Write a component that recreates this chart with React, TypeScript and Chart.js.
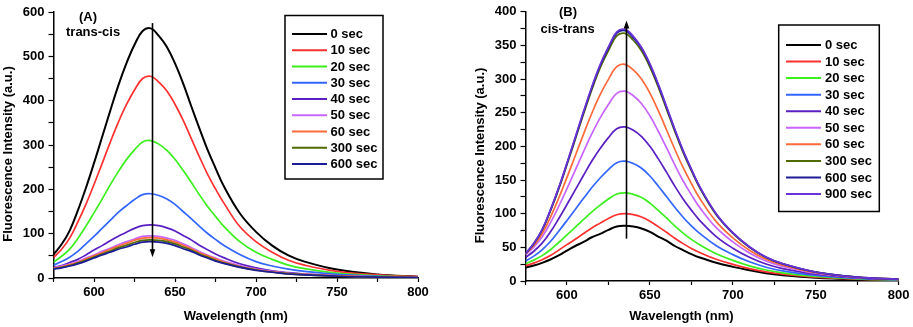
import React, { useEffect, useRef } from "react";
import { Chart, registerables } from "chart.js";

Chart.register(...registerables);

// ---------------- data ----------------
const wavelengths = [575, 580, 585, 590, 595, 600, 605, 610, 615, 620, 625, 630, 635, 640, 645, 650, 655, 660, 665, 670, 675, 680, 690, 700, 710, 720, 730, 750, 775, 800];

// Panel A (trans-cis)
const labelsA = ["0 sec", "10 sec", "20 sec", "30 sec", "40 sec", "50 sec", "60 sec", "300 sec", "600 sec"];
const colorsA = ["#000000", "#ff3030", "#3cef1e", "#3366ff", "#5a1fc4", "#c866ff", "#ff6a3a", "#4f6a00", "#1c1c96"];
const a0 = [53, 76, 107, 152, 203, 259, 318, 377, 434, 484, 526, 557, 563, 546, 521, 484, 439, 388, 338, 290, 248, 208, 146, 104, 73, 51, 37, 19, 8, 3];
const a10 = [46, 65, 90, 126, 166, 211, 258, 306, 351, 391, 424, 450, 455, 442, 422, 392, 356, 315, 274, 235, 201, 170, 116, 82, 58, 40, 29, 15, 7, 3];
const a20 = [36, 49, 65, 89, 117, 147, 178, 210, 240, 267, 289, 307, 310, 302, 288, 268, 243, 216, 188, 162, 139, 117, 82, 58, 42, 29, 21, 11, 5, 2];
const a30 = [29, 37, 47, 60, 77, 94, 112, 130, 148, 163, 177, 188, 190, 186, 178, 166, 150, 134, 117, 101, 87, 74, 53, 37, 27, 20, 15, 8, 4, 2];
const a40 = [24, 28, 35, 42, 52, 63, 73, 84, 94, 103, 112, 118, 120, 118, 113, 106, 96, 86, 74, 64, 54, 46, 32, 23, 16, 12, 9, 5, 2.4, 1.2];
const a50 = [23, 27, 31, 37, 45, 52, 60, 67, 75, 82, 88, 94, 95, 94, 90, 85, 77, 69, 60, 52, 45, 38, 28, 20, 15, 11, 8, 5, 2.4, 1.2];
const a60 = [22, 25, 30, 35, 43, 50, 57, 65, 72, 78, 85, 90, 91, 90, 86, 81, 74, 66, 57, 50, 43, 36, 26, 19, 14, 10, 8, 5, 2.3, 1.2];
const a300 = [21, 24, 28, 34, 40, 47, 54, 61, 68, 74, 80, 85, 86, 85, 82, 77, 70, 63, 54, 47, 40, 34, 25, 18, 13, 10, 7, 4, 2.2, 1.1];
const a600 = [20, 23, 27, 32, 38, 45, 52, 58, 65, 70, 76, 81, 82, 81, 78, 73, 66, 60, 52, 45, 38, 33, 24, 17, 13, 9, 7, 4, 2, 1];
const seriesA = [a0, a10, a20, a30, a40, a50, a60, a300, a600];

// Panel B (cis-trans)
const labelsB = ["0 sec", "10 sec", "20 sec", "30 sec", "40 sec", "50 sec", "60 sec", "300 sec", "600 sec", "900 sec"];
const colorsB = ["#000000", "#ff3030", "#3cef1e", "#3366ff", "#5a1fc4", "#c866ff", "#ff6a3a", "#4f6a00", "#1c1c96", "#6a32d8"];
const b0 = [20, 23, 27, 32, 38, 45, 52, 58, 65, 70, 76, 81, 82, 81, 78, 73, 66, 60, 52, 46, 40, 35, 27, 21, 16, 11.5, 8.6, 4.9, 2.5, 1.2];
const b10 = [22.5, 26.5, 31.6, 37.8, 45.9, 54, 62, 70.6, 78.8, 86, 93, 98.5, 100, 98.6, 95, 88.9, 80.8, 72.5, 63.5, 55.5, 48.4, 42.4, 32.3, 24.8, 18.4, 13.5, 10.1, 5.7, 2.8, 1.4];
const b20 = [25.7, 31, 37.7, 46.4, 57.2, 68.5, 80, 91.4, 102.7, 112.7, 121.8, 129.2, 131, 128.8, 124.2, 115.8, 105, 93.7, 81.9, 71.2, 61.8, 53.8, 40.5, 30.7, 22.5, 16.4, 12.2, 6.8, 3.3, 1.6];
const b30 = [29.8, 36.9, 46.3, 58.7, 73.9, 89.9, 106.4, 122.8, 138.8, 153.1, 165.5, 175.8, 178, 174.6, 167.6, 156, 141.2, 125.5, 109.5, 94.8, 81.9, 70.8, 52.5, 39.2, 28.5, 20.5, 15.1, 8.3, 3.9, 1.9];
const b40 = [35, 44.2, 56.3, 72.8, 92.5, 113.6, 135.3, 157.1, 178.2, 196.9, 213, 226.3, 229, 224, 214.6, 200.1, 181.8, 161.7, 141, 122, 105.3, 90.2, 66, 48.8, 35.3, 25.2, 18.5, 10.1, 4.7, 2.2];
const b50 = [39, 50.3, 65.4, 86.3, 110.8, 137.3, 164.8, 192.3, 218.8, 242.5, 262.3, 278.8, 282, 275.2, 263.4, 245.5, 222.9, 198, 172.6, 149, 128.3, 109.4, 79.2, 58.1, 41.7, 29.6, 21.7, 11.6, 5.3, 2.5];
const b60 = [39.9, 52.8, 70.2, 94.7, 123, 153.9, 186.1, 218.3, 249.2, 276.9, 299.5, 318.5, 322, 313.6, 299.8, 279.2, 253.4, 224.8, 195.8, 168.7, 144.9, 123, 88.2, 64.1, 45.7, 32.2, 23.5, 12.4, 5.5, 2.5];
const b300 = [40.3, 55, 75.1, 103.8, 136.5, 172.6, 210.3, 248, 284.1, 316.5, 342.2, 364.1, 368, 357.7, 341.5, 317.8, 288.3, 255.4, 222.3, 191.2, 163.8, 138.4, 98.3, 70.7, 50, 35, 25.4, 13.1, 5.7, 2.5];
const b600 = [40.7, 55.6, 75.9, 104.9, 138, 174.5, 212.6, 250.7, 287.2, 319.9, 346, 368.1, 372, 361.6, 345.2, 321.2, 291.5, 258.2, 224.7, 193.3, 165.5, 139.9, 99.3, 71.4, 50.6, 35.3, 25.7, 13.3, 5.8, 2.6];
const b900 = [41, 55.9, 76.3, 105.5, 138.8, 175.4, 213.7, 252.1, 288.7, 321.6, 347.8, 370.1, 374, 363.5, 347, 323, 293, 259.6, 225.9, 194.3, 166.4, 140.6, 99.9, 71.8, 50.9, 35.5, 25.8, 13.4, 5.8, 2.6];
const seriesB = [b0, b10, b20, b30, b40, b50, b60, b300, b600, b900];

// arrows: [wavelength, from value, to value]
const arrowA = [635.5, 575, 47];
const arrowB = [635.5, 63, 387];

// ---------------- styling ----------------
const FAMILY = '"Liberation Sans", Arial, Helvetica, sans-serif';
const FONT = { family: FAMILY, size: 13, weight: "bold" as const };

const overlayPlugin = {
  id: "overlay",
  afterDatasetsDraw(chart: any, _args: any, opts: any) {
    const ctx = chart.ctx as CanvasRenderingContext2D;
    const xs = chart.scales.x;
    const ys = chart.scales.y;
    ctx.save();
    const ar = opts.arrow;
    if (ar) {
      const px = Math.round(xs.getPixelForValue(ar[0])) + 0.5;
      const y0 = ys.getPixelForValue(ar[1]);
      const y1 = ys.getPixelForValue(ar[2]);
      const dir = y1 > y0 ? 1 : -1;
      ctx.strokeStyle = "#000";
      ctx.lineWidth = 1.6;
      ctx.beginPath();
      ctx.moveTo(px, y0);
      ctx.lineTo(px, y1 - dir * 5);
      ctx.stroke();
      ctx.fillStyle = "#000";
      ctx.beginPath();
      ctx.moveTo(px, y1);
      ctx.lineTo(px - 2.8, y1 - dir * 8);
      ctx.lineTo(px + 2.8, y1 - dir * 8);
      ctx.closePath();
      ctx.fill();
    }
    ctx.font = `bold 13px ${FAMILY}`;
    ctx.textBaseline = "middle";
    ctx.textAlign = "left";
    ctx.fillStyle = "#000";
    for (const t of opts.texts || []) ctx.fillText(t.text, t.x, t.y);
    const lg = opts.legend;
    if (lg) {
      ctx.fillStyle = "#fff";
      ctx.fillRect(lg.x, lg.y, lg.w, lg.h);
      ctx.strokeStyle = "#000";
      ctx.lineWidth = 1.5;
      ctx.strokeRect(lg.x, lg.y, lg.w, lg.h);
      chart.data.datasets.forEach((ds: any, i: number) => {
        const y = lg.row0 + i * lg.rowH;
        ctx.strokeStyle = ds.borderColor;
        ctx.lineWidth = 2;
        ctx.beginPath();
        ctx.moveTo(lg.line0, y);
        ctx.lineTo(lg.line1, y);
        ctx.stroke();
        ctx.fillStyle = "#000";
        ctx.fillText(ds.label, lg.textX, y + 0.5);
      });
    }
    ctx.restore();
  },
};

function buildConfig(
  labels: string[],
  colors: string[],
  series: number[][],
  yMax: number,
  yStep: number,
  yLabelStep: number,
  layout: any,
  overlay: any
): any {
  const datasets = series.map((vals, i) => ({
    label: labels[i],
    data: vals.map((v, j) => ({ x: wavelengths[j], y: v })),
    borderColor: colors[i],
    backgroundColor: colors[i],
    borderWidth: i === 0 ? 2 : 1.7,
    pointRadius: 0,
    fill: false,
    tension: 0.4,
    order: series.length - i,
  }));
  return {
    type: "line",
    data: { datasets },
    options: {
      responsive: false,
      maintainAspectRatio: false,
      animation: false,
      devicePixelRatio: 1,
      events: [],
      layout: { padding: layout.padding },
      plugins: {
        legend: { display: false },
        tooltip: { enabled: false },
        overlay,
      },
      scales: {
        x: {
          type: "linear",
          min: 575,
          max: 800,
          ticks: {
            stepSize: 25,
            autoSkip: false,
            maxRotation: 0,
            font: FONT,
            color: "#000",
            padding: 3,
            callback: (v: number) => (v % 50 === 0 ? String(v) : ""),
          },
          grid: { drawOnChartArea: false, drawTicks: true, tickLength: 4, color: "#000", tickWidth: 1.2 },
          border: { display: true, color: "#000", width: 1.5 },
          title: {
            display: true,
            text: layout.xTitle,
            font: FONT,
            color: "#000",
            padding: { top: 0, bottom: 3 },
          },
          afterFit: (s: any) => {
            s.height = layout.xHeight;
          },
        },
        y: {
          type: "linear",
          min: 0,
          max: yMax,
          ticks: {
            stepSize: yStep,
            autoSkip: false,
            font: FONT,
            color: "#000",
            padding: 4,
            callback: (v: number) => (v % yLabelStep === 0 ? String(v) : ""),
          },
          grid: { drawOnChartArea: false, drawTicks: true, tickLength: 5, color: "#000", tickWidth: 1.2 },
          border: { display: true, color: "#000", width: 1.5 },
          title: {
            display: true,
            text: "Fluorescence Intensity (a.u.)     ",
            font: FONT,
            color: "#000",
            padding: { top: layout.yTitlePad, bottom: 0 },
          },
          afterFit: (s: any) => {
            s.width = layout.yWidth;
          },
        },
      },
    },
    plugins: [overlayPlugin],
  };
}

function Panel(props: { left: number; width: number; config: () => any }) {
  const ref = useRef<HTMLCanvasElement | null>(null);
  useEffect(() => {
    if (!ref.current) return;
    const chart = new Chart(ref.current, props.config());
    return () => chart.destroy();
  }, []);
  return (
    <canvas
      ref={ref}
      width={props.width}
      height={327}
      style={{ position: "absolute", left: props.left, top: 0, width: props.width, height: 327, display: "block" }}
    />
  );
}

export default function App() {
  const configA = () =>
    buildConfig(
      labelsA,
      colorsA,
      seriesA,
      600,
      50,
      100,
      {
        padding: { left: 0, right: 35, top: 12, bottom: 0 },
        xHeight: 49,
        yWidth: 53.5,
        yTitlePad: 1,
        xTitle: "Wavelength (nm)",
      },
      {
        arrow: arrowA,
        texts: [
          { text: "(A)", x: 79, y: 17 },
          { text: "trans-cis", x: 66, y: 32 },
        ],
        legend: { x: 285, y: 15.5, w: 98, h: 163.5, row0: 34, rowH: 16.25, line0: 292, line1: 327, textX: 330.5 },
      }
    );
  const configB = () =>
    buildConfig(
      labelsB,
      colorsB,
      seriesB,
      400,
      25,
      50,
      {
        padding: { left: 0, right: 14.3, top: 8.3, bottom: 0 },
        xHeight: 46,
        yWidth: 72.5,
        yTitlePad: 20,
        xTitle: "Wavelength (nm)                 ",
      },
      {
        arrow: arrowB,
        texts: [
          { text: "(B)", x: 106, y: 12.5 },
          { text: "cis-trans", x: 87.5, y: 29 },
        ],
        legend: { x: 325.7, y: 25, w: 100.6, h: 186.5, row0: 45, rowH: 16.56, line0: 333, line1: 368, textX: 372 },
      }
    );
  return (
    <div style={{ position: "absolute", left: 0, top: 0, width: 913, height: 327, background: "#fff", overflow: "hidden" }}>
      <Panel left={0} width={453} config={configA} />
      <Panel left={453} width={460} config={configB} />
    </div>
  );
}
